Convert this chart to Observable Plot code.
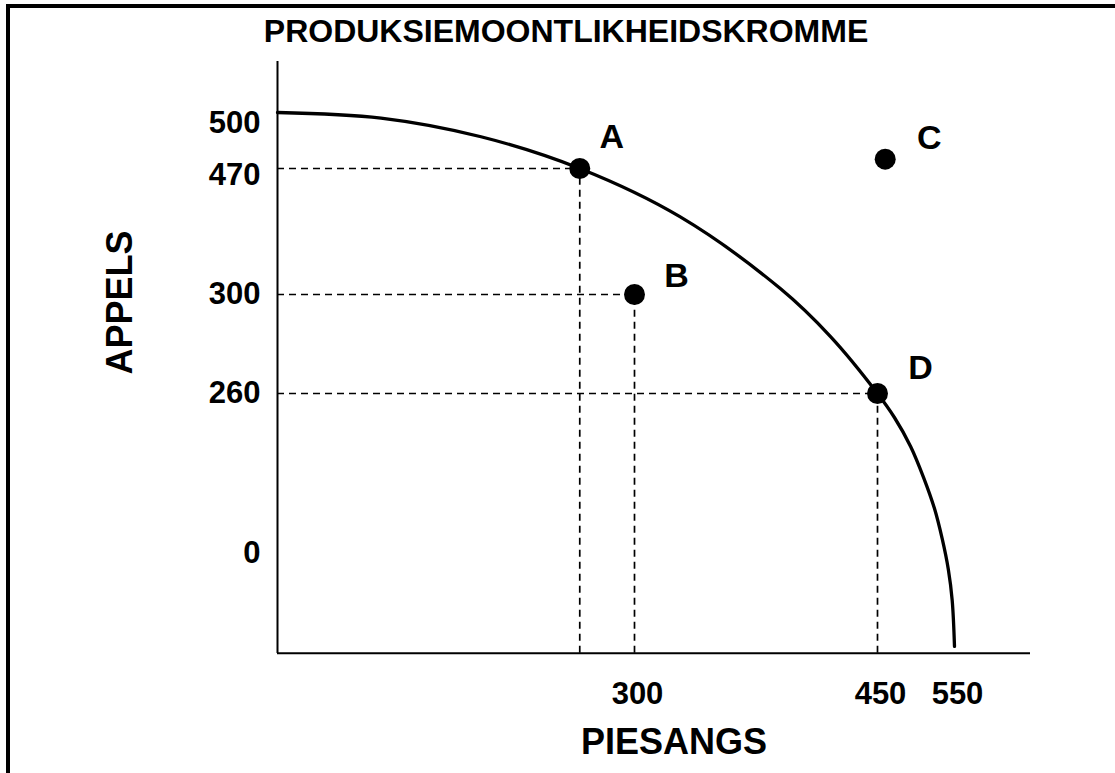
<!DOCTYPE html>
<html><head><meta charset="utf-8">
<script src="https://cdn.jsdelivr.net/npm/d3@7"></script>
<script src="https://cdn.jsdelivr.net/npm/@observablehq/plot@0.6"></script>
<style>
html,body{margin:0;padding:0;background:#fff;}
#wrap{position:relative;width:1115px;height:773px;overflow:hidden;}
#chart{position:absolute;left:0;top:0;}
#border{position:absolute;left:6px;top:4px;right:0;bottom:0;border-left:4px solid #000;border-top:4px solid #000;pointer-events:none;}
</style></head><body>
<div id="wrap"><div id="chart"></div><div id="border"></div></div>
<script>
// ---- data ----
const title = "PRODUKSIEMOONTLIKHEIDSKROMME";
const xLabel = "PIESANGS";
const yLabel = "APPELS";
const xTicks = [300, 450, 550];
const yTicks = [0, 260, 300, 470, 500];
const pointNames = ["A", "B", "C", "D"];
const pointX = [254, 300, 460, 450];
const pointY = [470, 300, 475, 260];
const guideNames = ["A", "B", "D"];
const curveX = [0, 87, 171, 254, 328, 390, 421, 450, 472, 493, 510, 524, 534, 542, 547, 550];
const curveY = [500, 497, 487, 470, 405, 308, 283, 260, 221, 174, 123, 73, 24, -26, -76, -151];
const axisFloorY = -162; // the horizontal axis lies below the "0" label in the original

// ---- tables built from the arrays ----
const points = pointNames.map((name, i) => ({name, x: pointX[i], y: pointY[i]}));
const guides = points.filter(d => guideNames.includes(d.name));
const curve = curveX.map((x, i) => ({x, y: curveY[i]}));

const font = "'Liberation Sans', Arial, Helvetica, sans-serif";
const labelOffsets = {A: [32, -31], B: [42, -18], C: [44, -21], D: [43, -25]};
const tickStyle = {anchor: "left", tickSize: 0, tickPadding: 17, fontSize: 31, fontWeight: "bold", label: null};

const plot = Plot.plot({
  width: 1115,
  height: 773,
  marginLeft: 277,
  marginRight: 85,
  marginTop: 61,
  marginBottom: 120,
  style: {fontFamily: font, background: "transparent", overflow: "visible", color: "#000"},
  x: {type: "linear", domain: [0, ...xTicks], range: [277, 634, 877, 954]},
  y: {type: "linear", domain: yTicks, range: [553, 393, 294, 168, 112]},
  marks: [
    // axis lines
    Plot.ruleX([0], {stroke: "#000", strokeWidth: 2}),
    Plot.ruleY([axisFloorY], {stroke: "#000", strokeWidth: 2}),
    // dashed guides
    Plot.ruleY(guides, {y: "y", x1: 0, x2: "x", stroke: "#000", strokeWidth: 1.7, strokeDasharray: "7,5"}),
    Plot.ruleX(guides, {x: "x", y1: axisFloorY, y2: "y", stroke: "#000", strokeWidth: 1.7, strokeDasharray: "7,5"}),
    // production possibility curve
    Plot.line(curve, {x: "x", y: "y", curve: "catmull-rom", stroke: "#000", strokeWidth: 3.3}),
    // points
    Plot.dot(points, {x: "x", y: "y", r: 10.5, fill: "#000", stroke: "none"}),
    ...pointNames.map(n => Plot.text(points.filter(d => d.name === n), {
      x: "x", y: "y", text: "name", dx: labelOffsets[n][0], dy: labelOffsets[n][1],
      fontSize: 34, fontWeight: "bold", fill: "#000"
    })),
    // tick labels
    Plot.axisY(yTicks.filter(v => v === 500), {...tickStyle, dy: 11}),
    Plot.axisY(yTicks.filter(v => v === 470), {...tickStyle, dy: 7}),
    Plot.axisY(yTicks.filter(v => v < 470), tickStyle),
    Plot.axisX(xTicks, {anchor: "bottom", tickSize: 0, tickPadding: 28, fontSize: 31, fontWeight: "bold", dx: 3, label: null}),
    // titles
    Plot.text([title], {text: d => d, frameAnchor: "top", lineAnchor: "middle", dx: -88, dy: -30, fontSize: 32, fontWeight: "bold", fill: "#000"}),
    Plot.text([xLabel], {text: d => d, frameAnchor: "bottom", lineAnchor: "middle", dx: 20, dy: 89, fontSize: 36, fontWeight: "bold", fill: "#000"}),
    Plot.text([yLabel], {text: d => d, frameAnchor: "left", textAnchor: "middle", lineAnchor: "middle", rotate: -90, dx: -157, dy: -55, fontSize: 36, fontWeight: "bold", fill: "#000"})
  ]
});
document.getElementById("chart").appendChild(plot);
</script>
</body></html>
